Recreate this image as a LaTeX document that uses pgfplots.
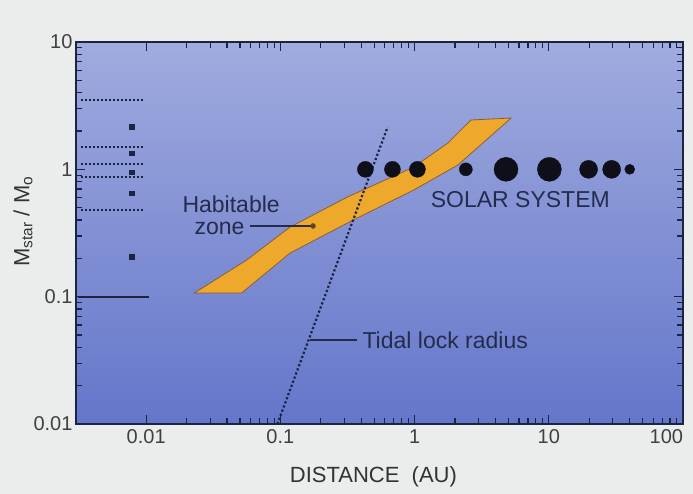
\documentclass[border=0pt]{standalone}
\usepackage{fontspec}
\setmainfont{Liberation Sans}
\usepackage{pgfplots}
\pgfplotsset{compat=1.18}
\usetikzlibrary{backgrounds}
\definecolor{outerbg}{RGB}{234,237,235}
\definecolor{topbg}{RGB}{160,171,222}
\definecolor{botbg}{RGB}{100,118,202}
\definecolor{navy}{RGB}{28,36,68}
\definecolor{band}{RGB}{238,168,44}
\definecolor{bandedge}{RGB}{140,95,50}
\definecolor{txt}{RGB}{36,44,78}
\definecolor{planet}{RGB}{15,15,25}
\begin{document}
\begin{tikzpicture}
\begin{axis}[
  at={(0,0)}, anchor=south west,
  scale only axis, width=607pt, height=382pt,
  xmode=log, ymode=log,
  xmin=0.003, xmax=100, ymin=0.01, ymax=10,
  axis background/.style={shade, top color=topbg, bottom color=botbg},
  axis line style={navy, line width=2.5pt},
  tick style={navy, line width=1.2pt},
  tick align=inside,
  major tick length=9pt, minor tick length=6pt,
  xtick={0.01,0.1,1,10,100}, xticklabels={0.01,0.1,1,10,\makebox[0pt][r]{100}},
  ytick={0.01,0.1,1,10}, yticklabels={0.01,0.1,1,10},
  ticklabel style={font=\fontsize{20}{24}\selectfont, text=black!75},
  xticklabel style={yshift=-2pt},
  xlabel={DISTANCE\ \ (AU)},
  xlabel style={font=\fontsize{22}{26}\selectfont, text=black!80, at={(rel axis cs:0.49,-0.1387)}, anchor=center},
  ylabel={M\textsubscript{star} / M\textsubscript{o}},
  ylabel style={font=\fontsize{22}{26}\selectfont, text=black!80, at={(rel axis cs:-0.0873,0.53)}, anchor=center},
  clip=false,
]
% habitable zone band
\addplot[fill=band, draw=bandedge, line width=0.8pt] coordinates {
  (0.0229,0.107) (0.0515,0.107) (0.118,0.220) (0.349,0.400) (0.983,0.687)
  (2.10,1.08) (5.24,2.53) (2.63,2.44) (1.77,1.61) (0.983,1.04)
  (0.315,0.605) (0.118,0.352) (0.0561,0.194)
} -- cycle;
% tidal lock radius
\addplot[navy, line width=2.2pt, dash pattern=on 2.2pt off 2.2pt] coordinates {(0.095,0.01) (0.63,2.15)};
% stars
\addplot[navy, line width=2pt, dash pattern=on 2pt off 2pt] coordinates {(0.00326,3.50) (0.0097,3.50)};
\addplot[navy, line width=2pt, dash pattern=on 2pt off 2pt] coordinates {(0.00326,1.50) (0.0097,1.50)};
\addplot[navy, line width=2pt, dash pattern=on 2pt off 2pt] coordinates {(0.00326,1.10) (0.0097,1.10)};
\addplot[navy, line width=2pt, dash pattern=on 2pt off 2pt] coordinates {(0.00326,0.87) (0.0097,0.87)};
\addplot[navy, line width=2pt, dash pattern=on 2pt off 2pt] coordinates {(0.00326,0.479) (0.0097,0.479)};
\addplot[navy, line width=1.8pt] coordinates {(0.0031,0.1) (0.0105,0.1)};
\addplot[only marks, mark=square*, mark size=2.4pt, navy] coordinates {(0.00785,2.15) (0.00785,1.34) (0.00785,0.95) (0.00785,0.65) (0.00785,0.205)};
% planets
\addplot[only marks, mark=*, mark size=8pt, planet] coordinates {(0.43,1) (0.684,1) (1.05,1)};
\addplot[only marks, mark=*, mark size=6.5pt, planet] coordinates {(2.41,1)};
\addplot[only marks, mark=*, mark size=12pt, planet] coordinates {(4.8,1) (10.1,1)};
\addplot[only marks, mark=*, mark size=9pt, planet] coordinates {(19.8,1) (29.4,1)};
\addplot[only marks, mark=*, mark size=5pt, planet] coordinates {(40.1,1)};
% pointers
\addplot[txt, line width=1.2pt] coordinates {(0.0591,0.359) (0.175,0.359)};
\addplot[only marks, mark=*, mark size=2.5pt, bandedge!70!black] coordinates {(0.175,0.359)};
\addplot[txt, line width=1.2pt] coordinates {(0.166,0.0456) (0.374,0.0456)};
% texts
\node[anchor=west, text=txt, font=\fontsize{23}{26}\selectfont, inner sep=0pt] at (axis cs:0.0186,0.534) {Habitable};
\node[anchor=west, text=txt, font=\fontsize{23}{26}\selectfont, inner sep=0pt] at (axis cs:0.0229,0.346) {zone};
\node[anchor=west, text=txt, font=\fontsize{23}{26}\selectfont, inner sep=0pt] at (axis cs:0.408,0.0456) {Tidal lock radius};
\node[anchor=west, text=txt, font=\fontsize{23}{26}\selectfont, inner sep=0pt] at (axis cs:1.318,0.574) {SOLAR SYSTEM};
\end{axis}
\begin{scope}[on background layer]
\fill[outerbg] ([shift={(-76pt,-70pt)}]current axis.south west) rectangle ([shift={(10pt,42pt)}]current axis.north east);
\end{scope}
\end{tikzpicture}
\end{document}
